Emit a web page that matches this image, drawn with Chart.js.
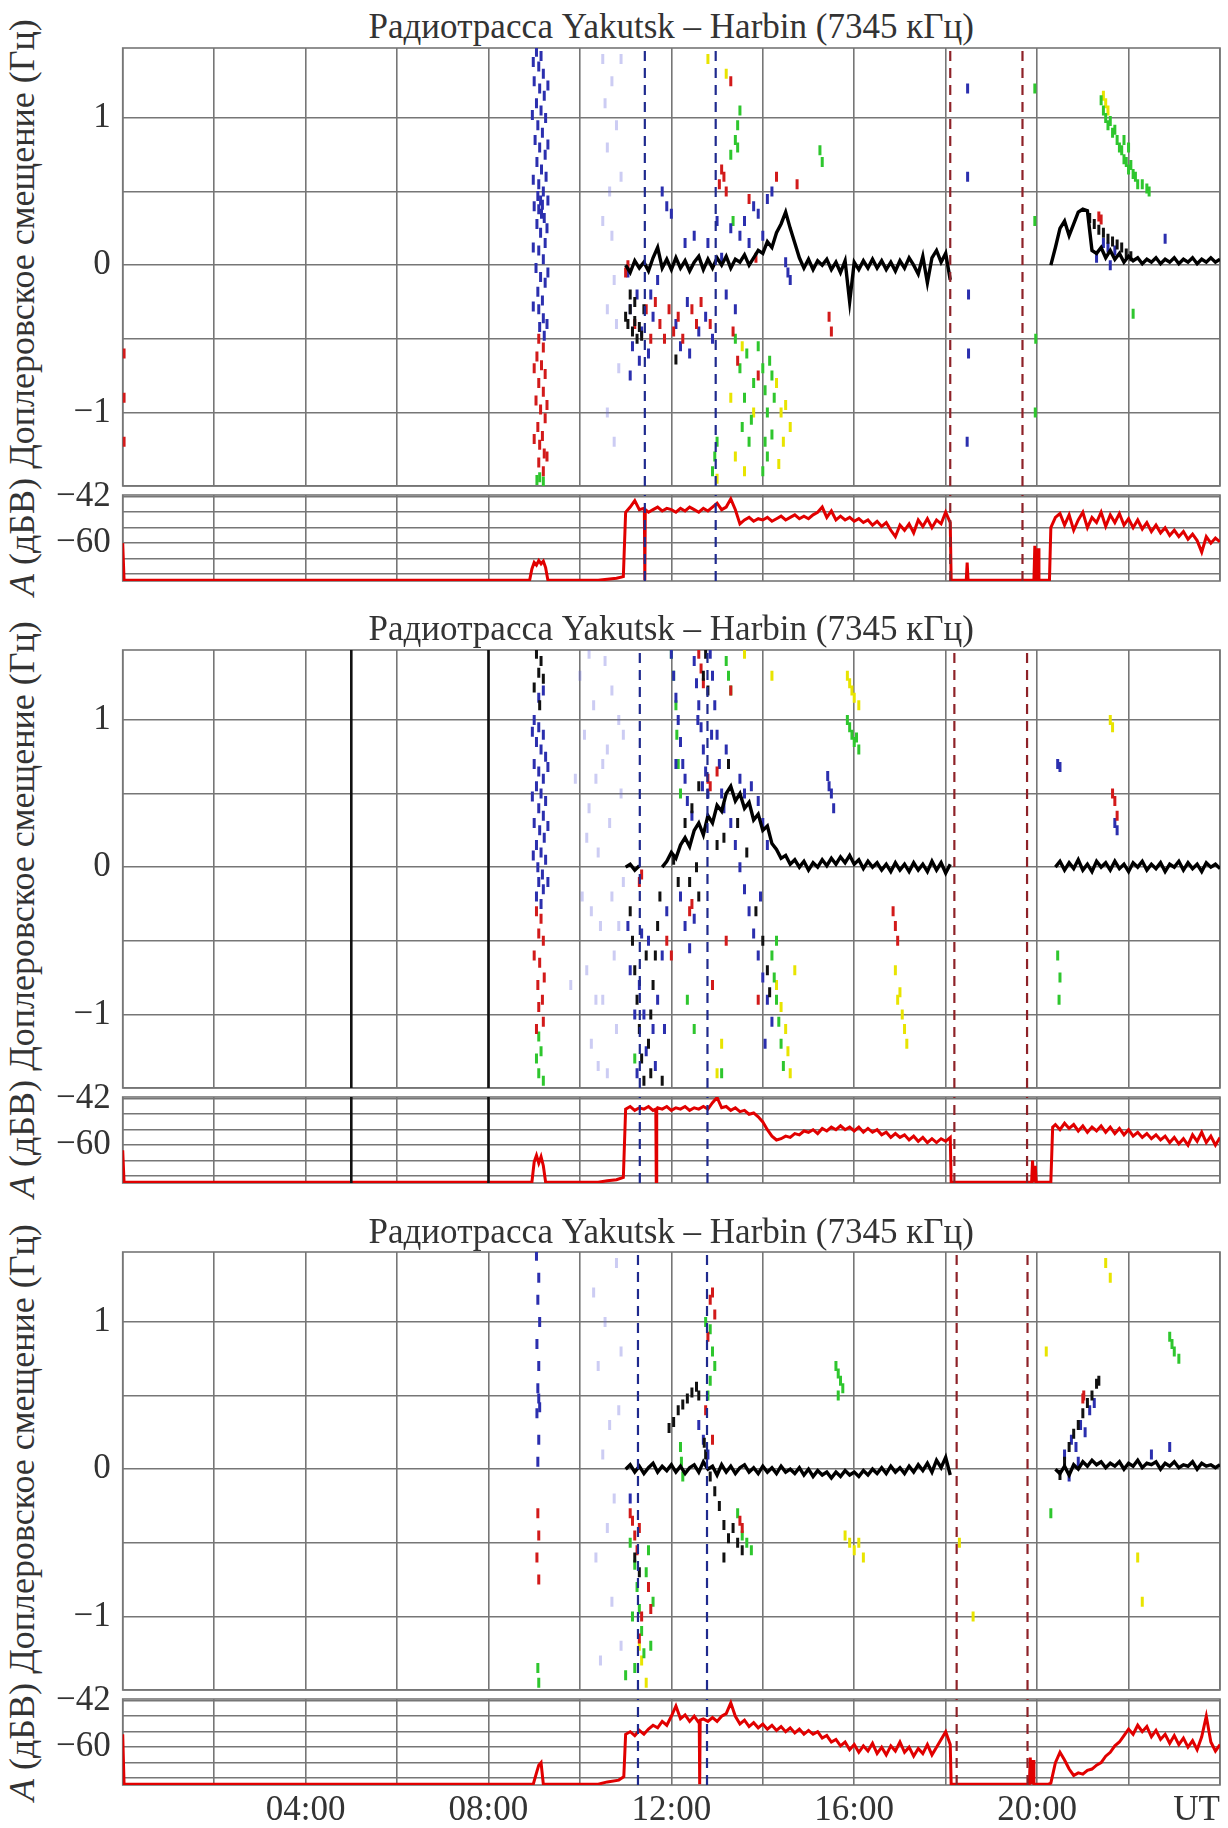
<!DOCTYPE html>
<html lang="ru">
<head>
<meta charset="utf-8">
<title>Радиотрасса Yakutsk – Harbin (7345 кГц)</title>
<script src="https://cdn.jsdelivr.net/npm/chart.js@4.4.1/dist/chart.umd.min.js"></script>
<style>
  body { margin: 0; background: #fff; }
  #page { position: relative; width: 1228px; height: 1828px; overflow: hidden;
          font-family: "Liberation Serif", "Times New Roman", serif; color: #333; }
  canvas { position: absolute; left: 0; }
  .title { position: absolute; left: 122.7px; width: 1097px; text-align: center;
           font-size: 35px; line-height: 1; white-space: nowrap; }
  .ylab { position: absolute; left: 22px; font-size: 36px; line-height: 1; white-space: nowrap;
          transform: translate(-50%, -50%) rotate(-90deg); }
</style>
</head>
<body>
<div id="page"></div>
<script>
// ---- axis ticks ----
const hourGrid = [0, 2, 4, 6, 8, 10, 12, 14, 16, 18, 20, 22, 24];
const hourLabelAt = [4, 8, 12, 16, 20, 24];
const hourLabelText = ['04:00', '08:00', '12:00', '16:00', '20:00', 'UT'];
const dopplerGrid = [-1.5, -1, -0.5, 0, 0.5, 1];
const dopplerLabelAt = [-1, 0, 1];
const ampGrid = [-72, -66, -60, -54, -48, -42];
const ampLabelAt = [-60, -42];
const STEP = 0.1; // sampling step of the traces, hours

// ---- event markers (UT hours) ----
const markBlue1 = [11.42, 12.97], markRed1 = [18.1, 19.68];
const markBlue2 = [11.31, 12.79], markRed2 = [18.19, 19.78];
const markBlue3 = [11.27, 12.78], markRed3 = [18.24, 19.79];
const blackBars2 = [5, 8];

// ================= day 1 =================
const ampQuiet1 = [[0,-60],[0.03,-74.4],[8.9,-74.4],[8.95,-70],[9.0,-67.5],[9.05,-68.5],[9.1,-66.8],[9.15,-68],[9.2,-67],[9.25,-69.5],[9.3,-74.4],
  [10.4,-74.4],[10.6,-74],[10.8,-73.6],[10.95,-73],[11.41,-47],[11.42,-74.4],[11.43,-47],
  [18.12,-74.4],[18.45,-74.4],[18.47,-67.5],[18.49,-74.4],[19.93,-74.4],[19.95,-61],[19.97,-74.4],[20.0,-74.4],[20.02,-62],[20.04,-74.4],[20.27,-74.4]];
const ampDay1 = [-48,-46,-43.5,-47,-46.5,-48,-47,-46,-47.5,-46.5, -47,-48,-46.5,-47.5,-46,-47,-48,-46.5,-47.5,-46,
  -44.5,-47,-46,-42.8,-47,-52.5,-51,-50,-51.5,-50.5, -51,-50,-51.5,-50.5,-49.5,-51,-50,-49,-50.5,-49.5,
  -50.5,-49,-48,-46,-50,-47.5,-51,-49.5,-51,-50, -51.5,-50.5,-52,-51,-53,-51.5,-53.5,-52,-55,-57.5,
  -53,-55,-52.5,-56,-51,-53.5,-50.5,-54,-51,-52.5, -48,-52];
const ampNight1 = [-54,-50,-48.5,-53,-49,-55,-51,-48,-54,-50, -52,-48,-53.5,-49,-52,-48.5,-53,-50.5,-54,-51,
  -54.5,-52,-55.5,-53,-56,-54,-57,-55,-57.5,-55.5, -58.5,-56.5,-59,-63.5,-57.5,-60,-58,-59.5];
const dopDay1 = [0,-0.05,0.03,-0.02,0.02,-0.04,0.05,0.12,-0.02,0.04, -0.03,0.05,-0.02,0.03,-0.04,0.02,0.06,-0.03,0.04,-0.02,
  0.05,0,0.06,-0.02,0.04,0.02,0.07,0,0.05,0.1, 0.08,0.16,0.12,0.22,0.28,0.36,0.25,0.15,0.05,-0.02,
  0.04,-0.03,0.03,0,0.04,-0.03,0.02,-0.05,0.03,-0.25, 0.02,-0.03,0.03,-0.02,0.04,-0.02,0.03,-0.03,0.02,-0.04,
  0.03,-0.02,0.05,0,-0.06,0.06,-0.12,0.05,0.1,0.02, 0.08,-0.1];
const dopNight1 = [0,0.12,0.25,0.3,0.2,0.28,0.36,0.38,0.37,0.1, 0.08,0.12,0.05,0.1,0.04,0.08,0.02,0.06,0.03,0.05,
  0.01,0.04,0.02,0.05,0.01,0.04,0.02,0.05,0.01,0.04, 0.02,0.05,0.01,0.04,0.02,0.05,0.02,0.04];
const dark1 = [[11.0,-0.35],[11.05,-0.4],[11.1,-0.3],[11.15,-0.45],[11.2,-0.38],[11.25,-0.5],[11.3,-0.42],[11.35,-0.48],[11.1,-0.2],[11.2,-0.25],[11.4,-0.3],[12.1,-0.64],
  [21.15,0.32],[21.25,0.28],[21.35,0.24],[21.45,0.22],[21.55,0.18],[21.65,0.16],[21.75,0.14],[21.85,0.12],[21.95,0.08],[22.05,0.06]];
const blue1 = [[9.05,1.45],[9.15,1.42],[9.1,1.35],[9.2,1.3],[9.0,1.25],[9.12,1.2],[9.22,1.15],[9.05,1.1],[9.15,1.05],[9.25,1.0],[9.08,0.95],[9.18,0.9],[9.02,0.85],[9.12,0.8],
  [9.24,0.75],[9.06,0.7],[9.16,0.65],[9.26,0.6],[9.1,0.55],[9.2,0.5],[9.08,0.47],[9.14,0.44],[9.18,0.41],[9.1,0.38],[9.16,0.35],[9.22,0.32],[9.06,0.28],[9.14,0.22],
  [9.24,0.15],[9.1,0.1],[9.2,0.04],[9.04,-0.02],[9.14,-0.08],[9.24,-0.12],[9.08,-0.18],[9.18,-0.24],[9.1,-0.3],[9.2,-0.36],[9.12,-0.42],[9.22,-0.48],
  [8.98,1.38],[9.3,1.22],[8.96,1.02],[9.3,0.82],[8.98,0.58],[9.3,0.44],[9.0,0.4],[9.28,0.25],[8.98,0.12],[9.3,-0.05],[8.98,-0.28],[9.28,-0.4],
  [11.05,-0.05],[11.1,-0.3],[11.15,-0.55],[11.1,-0.75],[11.25,-0.2],[11.35,-0.45],[11.5,-0.6],[11.6,-0.35],[11.7,-0.1],[11.9,0.4],[12.0,0.35],[12.1,-0.4],[12.2,-0.55],
  [12.35,-0.25],[12.5,0.2],[12.6,-0.45],[12.75,-0.35],[12.9,-0.5],[13.0,0.3],[13.2,-0.2],[13.3,0.25],[13.5,0.2],[13.6,0.3],[13.8,0.4],[13.9,0.35],[14.0,0.2],[14.1,0.45],
  [14.2,0.5],[14.55,-0.05],[14.6,-0.1],[14.5,0.02],[12.3,0.15],[11.8,0.5],[13.1,0.05],[13.4,-0.3],[12.8,0.15],[11.3,-0.65],[11.55,-0.2],[12.4,-0.6],[13.7,0.15],
  [18.48,1.2],[18.48,0.6],[18.5,-0.2],[18.5,-0.6],[18.47,-1.2],[21.45,0.15],[21.55,0.12],[21.7,0.1],[22.8,0.18],[21.3,0.05],[21.6,0.0]];
const red1 = [[0.03,-0.6],[0.03,-0.9],[0.03,-1.2],
  [9.1,-0.5],[9.2,-0.56],[9.06,-0.62],[9.16,-0.68],[9.24,-0.74],[9.1,-0.8],[9.2,-0.86],[9.04,-0.92],[9.14,-0.98],[9.24,-1.04],[9.08,-1.1],[9.18,-1.16],[9.12,-1.22],[9.22,-1.28],[9.1,-1.34],[9.2,-1.4],
  [9.0,-0.7],[9.28,-0.95],[9.0,-1.18],[9.28,-1.3],
  [11.0,-0.05],[11.05,0.0],[11.2,-0.4],[11.45,-0.3],[11.55,-0.5],[11.65,-0.25],[11.75,-0.4],[11.85,-0.5],[11.95,-0.3],[12.05,-0.45],[12.15,-0.35],[12.25,-0.5],[12.45,-0.3],
  [12.55,-0.4],[12.65,-0.25],[12.85,-0.4],[13.05,0.55],[13.1,0.65],[13.15,0.6],[13.2,0.5],[13.3,1.25],[13.7,0.45],[14.3,0.6],[14.75,0.55],[15.45,-0.35],[15.5,-0.45],
  [13.85,0.05],[13.35,-0.45],[13.45,-0.65],[13.9,-0.75],[21.35,0.33],[21.4,0.31]];
const green1 = [[9.12,-1.44],[9.2,-1.47],[9.06,-1.46],
  [12.9,-1.4],[12.95,-1.3],[13.0,-1.2],[13.3,0.75],[13.4,0.85],[13.45,0.95],[13.5,1.05],[13.45,0.8],[13.4,-0.5],[13.5,-0.7],[13.6,-0.9],[13.55,-1.1],[13.7,-1.2],
  [13.9,-0.55],[14.0,-0.7],[14.05,-0.85],[14.1,-1.0],[14.15,-0.65],[14.2,-1.15],[14.1,-1.3],[14.0,-1.4],[13.8,-0.8],[14.25,-0.9],[15.25,0.78],[15.3,0.7],
  [13.65,-0.6],[13.75,-1.05],[14.05,-1.2],[14.2,-0.75],[13.35,0.3],
  [19.95,1.2],[19.95,0.3],[19.97,-0.5],[19.96,-1.0],[22.1,-0.33],
  [21.4,1.12],[21.45,1.05],[21.5,1.0],[21.55,0.95],[21.6,0.98],[21.65,0.9],[21.7,0.92],[21.75,0.85],[21.8,0.8],[21.85,0.78],[21.9,0.72],[21.95,0.7],[22.0,0.65],
  [22.05,0.68],[22.1,0.62],[22.15,0.6],[22.2,0.55],[22.3,0.55],[22.4,0.52],[22.45,0.5],[22.0,0.8],[21.9,0.85]];
const yellow1 = [[13.3,-0.9],[13.4,-1.3],[13.6,-1.4],[13.8,-1.0],[14.3,-0.8],[14.4,-1.0],[14.45,-1.2],[14.5,-0.95],[14.35,-1.35],[13.2,1.3],[12.8,1.4],[13.0,-1.45],
  [13.55,-0.55],[14.6,-1.1],[21.45,1.15],[21.5,1.1],[21.55,1.05]];
const lav1 = [[10.5,1.4],[10.55,1.1],[10.6,0.8],[10.65,0.5],[10.7,0.2],[10.75,-0.1],[10.8,-0.4],[10.85,-0.7],[10.6,-1.0],[10.7,1.25],[10.8,0.95],[10.9,0.6],
  [10.5,0.3],[10.6,-0.3],[10.75,-1.2],[10.9,1.4]];

// ================= day 2 =================
const ampQuiet2 = [[0,-62],[0.03,-74.4],[8.95,-74.4],[9.0,-66.5],[9.05,-64],[9.1,-67],[9.15,-64.5],[9.2,-68],[9.25,-74.4],[10.4,-74.4],[10.6,-73.8],[10.8,-73.4],[10.95,-72.5],
  [11.66,-46],[11.67,-74.4],[11.68,-46],[18.12,-74.4],[19.88,-74.4],[19.9,-66],[19.92,-74.4],[19.96,-68],[19.98,-74.4],[20.3,-74.4],[20.34,-53]];
const ampDay2 = [-46,-45,-46.5,-45.5,-46,-45,-46.5,-45.5,-46,-45, -46.5,-45.5,-46,-45,-46.5,-45.5,-46,-45,-46,-43.5,
  -41.5,-45.5,-45,-46.5,-45.5,-47,-46.5,-48,-47.5,-49, -51,-54,-56.5,-58,-57.5,-56.5,-57,-55.5,-56,-54.5,
  -55,-54,-55.5,-53.5,-54.5,-53,-54,-52.5,-54,-53, -54.5,-53,-55,-53.5,-55,-54,-56,-55,-57,-55.5,
  -57,-56,-58,-56.5,-58.5,-57,-59,-57.5,-59,-57.5, -58.5,-57];
const ampNight2 = [-52,-54,-51.5,-53.5,-52,-54.5,-52.5,-55,-53,-54.5, -52.5,-55,-53,-55.5,-53.5,-56,-54,-56.5,-55,-57,
  -55.5,-57.5,-56,-58,-56.5,-59,-57,-59.5,-57.5,-60, -56,-58.5,-55,-59,-56.5,-60,-57];
const dopLead2 = [[11.0,0.0],[11.1,0.02],[11.2,-0.02],[11.3,0.01]];
const dopDay2 = [0,0.04,0.1,0.06,0.15,0.2,0.14,0.25,0.3,0.22, 0.35,0.3,0.42,0.38,0.5,0.55,0.45,0.5,0.4,0.44,
  0.32,0.36,0.25,0.28,0.16,0.12,0.06,0.08,0.02,0.05, 0,0.04,-0.02,0.03,0,0.05,0.01,0.06,0.02,0.07,
  0.03,0.08,0.02,0.05,-0.01,0.04,0,0.03,-0.02,0.02, -0.03,0.03,-0.02,0.02,-0.03,0.03,-0.02,0.02,-0.03,0.04,
  -0.02,0.03,-0.04,0.02];
const dopNight2 = [0,0.04,-0.02,0.03,-0.01,0.05,-0.02,0.02,-0.03,0.04, 0,0.03,-0.02,0.04,-0.01,0.02,-0.03,0.03,0,0.04,
  -0.02,0.02,-0.01,0.03,-0.03,0.02,0,0.04,-0.02,0.03, -0.01,0.02,-0.03,0.03,0,0.02,-0.01];
const dark2 = [[9.05,1.45],[9.15,1.4],[9.1,1.32],[9.2,1.28],[9.0,1.22],[9.12,1.1],
  [11.1,-0.3],[11.15,-0.5],[11.2,-0.7],[11.25,-0.9],[11.3,-1.1],[11.35,-1.3],[11.4,-1.45],[11.5,-1.2],[11.55,-1.0],[11.6,-0.8],[11.65,-0.6],[11.7,-0.4],[11.75,-0.2],
  [11.45,-0.6],[11.55,-1.4],[11.8,-1.45],
  [12.05,0.05],[12.15,-0.1],[12.3,0.3],[12.45,0.4],[12.6,0.55],[12.7,1.3],[12.75,1.45],[12.8,1.2],[13.0,0.15],[13.15,0.2],[13.25,0.7],[13.45,0.3],[13.65,0.1],
  [13.85,-0.3],[14.0,-0.5],[14.1,-0.7],[14.15,-0.85],[12.6,-0.2],[12.55,0.0],[12.4,-0.1]];
const blue2 = [[9.0,1.0],[9.1,0.95],[9.2,0.9],[9.05,0.85],[9.15,0.8],[9.25,0.75],[9.0,0.7],[9.1,0.65],[9.2,0.6],[9.05,0.55],[9.15,0.5],[9.25,0.45],[9.1,0.4],[9.2,0.35],
  [9.0,0.3],[9.12,0.25],[9.22,0.2],[9.05,0.15],[9.15,0.1],[9.25,0.05],[9.08,0.0],[9.18,-0.05],[9.1,-0.1],[9.2,-0.15],[9.05,-0.2],[9.15,-0.25],[9.1,1.15],[9.2,1.2],
  [8.96,0.92],[9.3,0.68],[8.96,0.48],[9.3,0.28],[8.98,0.08],[9.3,-0.1],
  [11.05,-0.4],[11.1,-0.7],[11.2,-1.0],[11.3,-0.8],[11.35,-0.45],[11.4,-1.0],[11.45,-1.25],[11.5,-0.5],[11.6,-1.1],[11.65,-1.35],[11.7,-0.9],[11.8,-0.6],[11.85,-1.1],
  [11.9,-0.3],[11.25,-1.4],
  [12.0,1.45],[12.05,1.3],[12.1,1.15],[12.15,1.0],[12.2,0.85],[12.25,0.7],[12.3,0.6],[12.35,0.45],[12.45,0.35],[12.5,1.4],[12.55,1.25],[12.6,1.1],[12.65,0.95],
  [12.7,0.8],[12.75,0.65],[12.8,0.5],[12.85,1.45],[12.9,1.3],[12.95,1.1],[13.0,0.9],[13.05,0.7],[13.1,0.5],[12.2,-0.2],[12.3,-0.4],[12.4,-0.55],[12.5,-0.35],
  [13.3,0.3],[13.4,0.15],[13.5,0.0],[13.6,-0.15],[13.7,-0.3],[13.8,-0.45],[13.9,-0.6],[14.0,-0.75],[14.1,-0.9],[14.2,-1.05],[13.5,0.6],[13.6,0.5],[13.75,0.55],
  [13.9,0.45],[14.0,0.3],[14.1,0.15],[12.58,1.0],[12.68,0.55],[12.88,0.9],[13.2,0.8],[13.15,0.4],[12.1,0.7],[13.95,-0.2],[14.05,-1.2],
  [15.45,0.55],[15.5,0.5],[15.55,0.4],[15.42,0.62],[21.7,0.3],[21.75,0.25],[20.45,0.7],[20.5,0.68]];
const red2 = [[9.05,-0.3],[9.15,-0.35],[9.1,-0.45],[9.2,-0.5],[9.0,-0.6],[9.12,-0.65],[9.22,-0.75],[9.08,-0.8],[9.18,-0.9],[9.1,-0.95],[9.2,-1.05],[9.05,-1.1],
  [12.6,1.45],[12.65,1.35],[12.7,1.25],[12.8,0.6],[12.85,0.55],[12.4,-0.3],[12.45,-0.25],[11.9,-0.5],[12.0,-0.6],[13.0,0.65],[13.3,1.2],[11.3,-0.1],[11.35,-0.05],
  [12.9,-0.8],[13.2,-0.5],[16.85,-0.3],[16.9,-0.4],[16.95,-0.5],[21.65,0.5],[21.7,0.45],[21.75,0.35],[13.9,-0.9]];
const green2 = [[9.1,-1.15],[9.15,-1.25],[9.05,-1.3],[9.1,-1.4],[9.2,-1.45],
  [12.0,1.45],[12.05,1.3],[12.1,1.1],[12.12,0.9],[12.15,0.7],[12.2,0.5],[13.2,1.4],[13.25,1.3],[13.3,1.2],[14.2,-0.6],[14.25,-0.75],[14.3,-0.9],[14.35,-1.05],
  [14.4,-1.2],[14.45,-1.35],[14.3,-0.5],[13.1,-1.4],[11.2,-1.3],[15.85,1.0],[15.9,0.95],[15.95,0.9],[16.0,0.85],[16.05,0.88],[16.1,0.8],[20.45,-0.6],[20.5,-0.75],
  [20.48,-0.9],[12.35,-0.9],[12.5,-1.1]];
const yellow2 = [[14.3,-0.8],[14.4,-0.95],[14.5,-1.1],[14.55,-1.25],[14.6,-1.4],[14.7,-0.7],[13.0,-1.4],[13.1,-1.2],[15.85,1.3],[15.9,1.25],[15.95,1.2],[16.0,1.15],
  [16.1,1.1],[16.9,-0.7],[17.0,-0.85],[17.05,-1.0],[17.1,-1.1],[17.15,-1.2],[16.95,-0.9],[21.6,1.0],[21.65,0.95],[13.6,1.45],[14.2,1.3]];
const lav2 = [[10.0,1.3],[10.1,0.9],[10.2,0.4],[10.05,-0.2],[10.15,-0.7],[10.25,-1.2],[10.3,1.1],[10.35,0.6],[10.4,0.1],[10.45,-0.4],[10.5,-0.9],[10.55,1.4],
  [10.6,0.8],[10.65,0.3],[10.7,-0.2],[10.75,-0.6],[10.8,-1.1],[10.85,1.0],[10.9,0.5],[10.95,-0.1],[10.4,-1.35],[10.2,1.45],[10.7,1.2],[10.6,-1.4],[10.35,-0.9],
  [10.15,0.2],[10.85,-0.4],[10.5,0.7],[9.9,0.6],[9.8,-0.8],[10.95,0.9],[10.25,-0.3]];

// ================= day 3 =================
const ampQuiet3 = [[0,-55],[0.03,-74.4],[8.98,-74.4],[9.05,-70],[9.1,-67],[9.15,-66],[9.2,-74.4],[10.4,-74.4],[10.6,-73.5],[10.85,-72.8],[10.96,-71.5],
  [12.61,-49.5],[12.62,-74.4],[12.63,-49.5],[18.12,-74.4],[19.83,-74.4],[19.85,-64],[19.87,-74.4],[19.91,-65],[19.93,-74.4],[20.25,-74.4]];
const ampDay3 = [-55,-54,-55.5,-53.5,-55,-53,-51.5,-52.5,-50,-51.5, -48,-44,-49,-47.5,-50,-48,-50.5,-49,-50,-48.5,
  -50,-48,-47,-42.8,-48,-51,-49.5,-52,-50.5,-52.5, -51,-53,-51.5,-53.5,-52,-54,-52.5,-54.5,-53,-55,
  -53.5,-55,-54,-56.5,-55.5,-58,-57,-59.5,-58,-61, -59,-62,-59.5,-61.5,-58.5,-62.5,-60,-63,-59.5,-61.5,
  -58,-62,-60,-63.5,-60.5,-62.5,-59,-63,-60,-57, -54,-59];
const ampNight3 = [-74,-66,-62,-65,-68.5,-71,-70,-70.5,-69,-68.5, -67,-66,-63.5,-62,-59.5,-58,-55.5,-53,-55,-51.5,
  -54,-52,-56,-53.5,-57,-55,-58.5,-55.5,-59,-56.5, -60,-57.5,-61,-56,-48,-58,-61.5,-59];
const dopDay3 = [0,0.03,-0.02,0.02,-0.03,0.01,0.04,-0.02,0.02,-0.01, 0.03,-0.02,0.02,-0.03,0.01,0.03,-0.02,0.05,0,0.02,
  -0.04,0.03,-0.02,0.02,-0.03,0.01,0.03,-0.02,0.01,-0.03, 0.02,-0.02,0.01,-0.03,0.02,-0.02,0,-0.03,0.01,-0.04,
  0,-0.05,-0.01,-0.04,-0.02,-0.06,-0.02,-0.05,-0.01,-0.04, -0.02,-0.05,-0.01,-0.04,0,-0.03,0.01,-0.03,0.02,-0.02,
  0.01,-0.03,0.02,-0.02,0.03,-0.01,0.04,-0.02,0.06,0.01, 0.08,-0.04];
const dopNight3 = [0,-0.03,0.02,-0.04,0.03,0,0.05,0.02,0.06,0.03, 0.05,0.01,0.04,0.02,0.05,0,0.04,0.02,0.06,0.01,
  0.04,0.03,0.05,0,0.04,0.02,0.05,0.01,0.03,0.02, 0.05,0,0.04,0.02,0.03,0.01,0.03];
const dark3 = [[11.95,0.28],[12.05,0.32],[12.15,0.4],[12.25,0.44],[12.35,0.48],[12.45,0.52],[12.55,0.56],[12.6,0.5],[12.72,0.18],[12.75,0.1],[12.85,-0.05],
  [12.95,-0.15],[13.05,-0.25],[13.15,-0.38],[13.25,-0.47],[13.35,-0.4],[13.45,-0.5],[13.55,-0.55],[13.15,-0.6],[11.2,-0.6],[11.3,-0.7],
  [20.5,-0.04],[20.6,0.05],[20.7,0.15],[20.8,0.24],[20.9,0.3],[21.0,0.38],[21.1,0.45],[21.2,0.5],[21.3,0.58],[21.35,0.6]];
const blue3 = [[9.05,1.45],[9.1,1.3],[9.08,1.15],[9.12,1.0],[9.06,0.85],[9.1,0.7],[9.08,0.55],[9.1,0.48],[9.12,0.42],[9.06,0.38],[9.1,0.2],[9.08,0.05],
  [12.6,0.3],[12.7,0.2],[12.8,0.1],[11.1,-0.2],
  [20.6,0.1],[20.75,0.2],[20.85,0.15],[20.95,0.3],[21.05,0.25],[21.15,0.4],[21.25,0.45],[20.7,-0.05],[20.9,0.05],[22.5,0.1],[22.9,0.15]];
const red3 = [[9.08,-0.3],[9.1,-0.45],[9.06,-0.6],[9.1,-0.75],
  [11.1,-0.3],[11.15,-0.35],[11.2,-0.45],[11.25,-0.55],[11.3,-0.4],[11.5,-0.8],[11.55,-0.95],[11.35,-1.0],[11.3,-1.15],[12.85,1.15],[12.9,1.2],[12.95,1.05],
  [12.8,0.9],[12.75,0.4],[12.9,0.2],[13.5,-0.35],[13.55,-0.4],[21.0,0.48],[21.02,0.5]];
const green3 = [[9.08,-1.35],[9.1,-1.45],
  [11.1,-0.5],[11.2,-0.65],[11.25,-0.8],[11.3,-0.95],[11.35,-1.1],[11.4,-1.25],[11.45,-0.7],[11.5,-0.55],[11.55,-1.2],[11.6,-0.9],[11.15,-1.0],[11.2,-1.35],
  [12.85,0.95],[12.9,0.8],[12.95,0.7],[12.85,0.6],[12.8,0.5],[12.2,0.15],[12.22,0.05],[12.25,-0.05],[13.45,-0.3],[13.55,-0.45],[13.65,-0.5],[13.75,-0.55],
  [15.6,0.7],[15.65,0.65],[15.7,0.6],[15.75,0.55],[15.65,0.5],[11.0,-1.4],[12.75,1.0],
  [22.9,0.9],[22.95,0.85],[23.0,0.8],[23.1,0.75],[20.3,-0.3]];
const yellow3 = [[11.3,-1.2],[11.35,-1.3],[11.45,-1.45],[15.8,-0.45],[15.9,-0.5],[16.0,-0.55],[16.1,-0.5],[16.2,-0.6],[18.3,-0.5],[18.6,-1.0],[21.5,1.4],
  [21.6,1.3],[22.2,-0.6],[22.3,-0.9],[20.2,0.8]];
const lav3 = [[10.3,1.2],[10.4,0.7],[10.5,0.1],[10.6,-0.4],[10.7,-0.9],[10.8,1.4],[10.85,0.4],[10.9,-1.2],[10.45,-1.3],[10.55,1.0],[10.65,0.3],[10.75,-0.2],
  [10.35,-0.6],[10.9,0.8]];

// ---- helpers ----
function run(t0, vals) {
  return vals.map((v, i) => ({ x: Math.round((t0 + i * STEP) * 100) / 100, y: v }));
}
function pts(list) { return list.map(p => ({ x: p[0], y: p[1] })); }
function merged(...parts) { return parts.flat().sort((a, b) => a.x - b.x); }
function segments(...segs) {
  const out = [];
  segs.forEach((s, i) => {
    if (i > 0) out.push({ x: s[0].x - 0.01, y: null });
    out.push(...s);
  });
  return out;
}

const panels = [
  { amp: merged(pts(ampQuiet1), run(11.0, ampDay1), run(20.3, ampNight1)),
    dop: segments(run(11.0, dopDay1), run(20.3, dopNight1)),
    dark: dark1, blue: blue1, red: red1, green: green1, yellow: yellow1, lav: lav1,
    markBlue: markBlue1, markRed: markRed1, bars: [] },
  { amp: merged(pts(ampQuiet2), run(11.0, ampDay2), run(20.4, ampNight2)),
    dop: segments(pts(dopLead2), run(11.8, dopDay2), run(20.4, dopNight2)),
    dark: dark2, blue: blue2, red: red2, green: green2, yellow: yellow2, lav: lav2,
    markBlue: markBlue2, markRed: markRed2, bars: blackBars2 },
  { amp: merged(pts(ampQuiet3), run(11.0, ampDay3), run(20.3, ampNight3)),
    dop: segments(run(11.0, dopDay3), run(20.4, dopNight3)),
    dark: dark3, blue: blue3, red: red3, green: green3, yellow: yellow3, lav: lav3,
    markBlue: markBlue3, markRed: markRed3, bars: [] }
];

// ---- layout (page pixels) ----
const PANEL_STEP = 602.3;
const AREA_LEFT = 122.7, AREA_RIGHT = 1220;
const DOP_TOP = 47.7, DOP_BOTTOM = 486;
const AMP_TOP = 494.7, AMP_BOTTOM = 580.3;
const DOP_MIN = -1.5, DOP_MAX = 1.475;
const AMP_MIN = -74.7, AMP_MAX = -41.3;
const PAD = 36;          // room for half a tick label plus its padding above/below each plot box
const TIME_AXIS_H = 44;  // height of the hour labels under the last panel
const GRID = 'rgb(118,118,118)';
const SERIF = '"Liberation Serif", "Times New Roman", serif';

const framePlugin = {
  id: 'frame',
  beforeDatasetsDraw(chart) {
    const a = chart.chartArea, ctx = chart.ctx;
    ctx.save();
    ctx.strokeStyle = GRID;
    ctx.lineWidth = 1.6;
    ctx.strokeRect(a.left, a.top, a.right - a.left, a.bottom - a.top);
    ctx.restore();
  }
};

function minusFmt(v) { return (v < 0 ? '\u2212' : '') + Math.abs(v); }

function timeAxis(showLabels) {
  return {
    type: 'linear', min: 0, max: 24,
    afterBuildTicks: s => { s.ticks = hourGrid.map(v => ({ value: v })); },
    afterFit: s => { s.height = showLabels ? TIME_AXIS_H : 0; },
    grid: { color: GRID, lineWidth: 1.6, drawTicks: false },
    border: { display: false },
    ticks: {
      display: showLabels, autoSkip: false, maxRotation: 0, align: 'inner', padding: 5,
      color: '#333', font: { family: SERIF, size: 35 },
      callback: v => { const i = hourLabelAt.indexOf(v); return i < 0 ? '' : hourLabelText[i]; }
    }
  };
}

function valueAxis(min, max, grid, labelAt) {
  return {
    min, max,
    afterBuildTicks: s => { s.ticks = grid.map(v => ({ value: v })); },
    afterFit: s => { s.width = AREA_LEFT; },
    grid: { color: GRID, lineWidth: 1.6, drawTicks: false },
    border: { display: false },
    ticks: {
      autoSkip: false, padding: 12, color: '#333', font: { family: SERIF, size: 35 },
      callback: v => labelAt.includes(v) ? minusFmt(v) : ''
    }
  };
}

function vline(t, lo, hi, color, width, dash) {
  return {
    data: [{ x: t, y: lo }, { x: t, y: hi }], showLine: true, pointRadius: 0,
    borderColor: color, borderWidth: width, borderDash: dash, order: 0
  };
}

function dots(list, color, order) {
  return {
    data: pts(list), pointStyle: 'line', pointRotation: 90, pointRadius: 5,
    pointBorderWidth: 3, borderColor: color, backgroundColor: color, order
  };
}

function markers(p, lo, hi) {
  const out = [];
  p.markBlue.forEach(t => out.push(vline(t, lo, hi, '#1f2a8e', 2.2, [10, 7])));
  p.markRed.forEach(t => out.push(vline(t, lo, hi, '#8e2228', 2.2, [10, 7])));
  p.bars.forEach(t => out.push(vline(t, lo, hi, '#111', 2.6, [])));
  return out;
}

function makeCanvas(page, top, height) {
  const c = document.createElement('canvas');
  c.width = 1228; c.height = height;
  c.style.top = top + 'px';
  c.style.width = '1228px'; c.style.height = height + 'px';
  page.appendChild(c);
  return c;
}

function baseOptions(padTop, padBottom, yAxis, showTime) {
  return {
    responsive: false, animation: false, devicePixelRatio: 1,
    layout: { padding: { left: 0, right: 1228 - AREA_RIGHT, top: padTop, bottom: padBottom } },
    plugins: { legend: { display: false }, tooltip: { enabled: false } },
    scales: { x: timeAxis(showTime), y: yAxis }
  };
}

const page = document.getElementById('page');

panels.forEach((p, k) => {
  const o = k * PANEL_STEP;

  const title = document.createElement('div');
  title.className = 'title';
  title.style.top = (o + 9) + 'px';
  title.textContent = 'Радиотрасса Yakutsk \u2013 Harbin (7345 кГц)';
  page.appendChild(title);

  const yl1 = document.createElement('div');
  yl1.className = 'ylab';
  yl1.style.top = (o + 244) + 'px';
  yl1.textContent = 'Доплеровское смещение (Гц)';
  page.appendChild(yl1);

  const yl2 = document.createElement('div');
  yl2.className = 'ylab';
  yl2.style.top = (o + 537) + 'px';
  yl2.innerHTML = '<i>A</i> (дБВ)';
  page.appendChild(yl2);

  // Doppler shift panel
  const dopCanvas = makeCanvas(page, o + DOP_TOP - PAD, Math.round(DOP_BOTTOM - DOP_TOP + 2 * PAD));
  new Chart(dopCanvas, {
    type: 'scatter',
    data: {
      datasets: [
        ...markers(p, DOP_MIN, DOP_MAX),
        { data: p.dop, showLine: true, pointRadius: 0, borderColor: '#000', borderWidth: 3.4, spanGaps: false, order: 1 },
        dots(p.dark, '#111', 2),
        dots(p.red, '#d21a1a', 3),
        dots(p.blue, '#2b2fae', 3),
        dots(p.green, '#2ec62e', 4),
        dots(p.yellow, '#e8e400', 5),
        dots(p.lav, 'rgba(110,110,220,0.35)', 6)
      ]
    },
    options: baseOptions(PAD, PAD, valueAxis(DOP_MIN, DOP_MAX, dopplerGrid, dopplerLabelAt), false),
    plugins: [framePlugin]
  });

  // received amplitude panel
  const last = k === panels.length - 1;
  const bottomRoom = last ? TIME_AXIS_H : PAD;
  const ampCanvas = makeCanvas(page, o + AMP_TOP - PAD, Math.round(AMP_BOTTOM - AMP_TOP + PAD + bottomRoom));
  new Chart(ampCanvas, {
    type: 'scatter',
    data: {
      datasets: [
        ...markers(p, AMP_MIN, AMP_MAX),
        { data: p.amp, showLine: true, pointRadius: 0, borderColor: '#e10000', borderWidth: 3, order: 1 }
      ]
    },
    options: baseOptions(PAD, last ? 0 : PAD, valueAxis(AMP_MIN, AMP_MAX, ampGrid, ampLabelAt), last),
    plugins: [framePlugin]
  });
});
</script>
</body>
</html>
